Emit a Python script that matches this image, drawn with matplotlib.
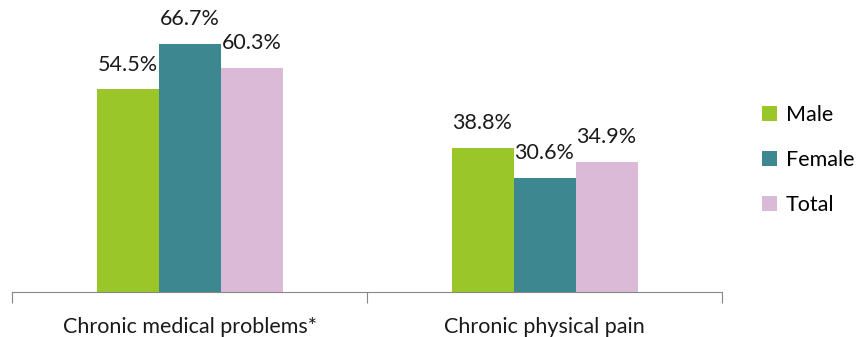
import matplotlib
matplotlib.use("Agg")
import matplotlib.pyplot as plt
import numpy as np

categories = ["Chronic medical problems*", "Chronic physical pain"]
series = ["Male", "Female", "Total"]
male = [54.5, 38.8]
female = [66.7, 30.6]
total = [60.3, 34.9]
colors = ["#9BC62A", "#3D8890", "#DBBAD7"]

plt.rcParams["font.family"] = ["Lato", "DejaVu Sans"]

fig = plt.figure(figsize=(8.57, 3.37), dpi=100)
ax = fig.add_axes([12 / 857, 45 / 337, 710 / 857, 262 / 337])

x = np.arange(len(categories))
w = 62 / 355
for i, (name, vals) in enumerate(zip(series, [male, female, total])):
    bars = ax.bar(x + (i - 1) * w, vals, width=w, color=colors[i], label=name)
    for b, v in zip(bars, vals):
        ax.text(b.get_x() + b.get_width() / 2, v + 4.0, f"{v}%",
                ha="center", va="bottom", fontsize=15.5, color="#1a1a1a")

ax.set_xlim(-0.5, 1.5)
ax.set_ylim(0, 70.5)
for s in ("top", "right", "left"):
    ax.spines[s].set_visible(False)
ax.spines["bottom"].set_color("#868686")
ax.set_yticks([])
ax.set_xticks([-0.5, 0.5, 1.5])
ax.set_xticklabels([])
ax.tick_params(axis="x", which="major", length=8, color="#868686")
ax.set_xticks(x, minor=True)
ax.set_xticklabels(categories, minor=True, fontsize=15.5, color="#1a1a1a")
ax.tick_params(axis="x", which="minor", length=0, pad=18)

ax.legend(loc="center left", bbox_to_anchor=(762 / 857, (337 - 160) / 337),
          bbox_transform=fig.transFigure, frameon=False, fontsize=15.5,
          handlelength=0.7, handleheight=0.7, handletextpad=0.4,
          labelspacing=1.15, borderpad=0, borderaxespad=0)

fig.savefig("out.png", dpi=100)
